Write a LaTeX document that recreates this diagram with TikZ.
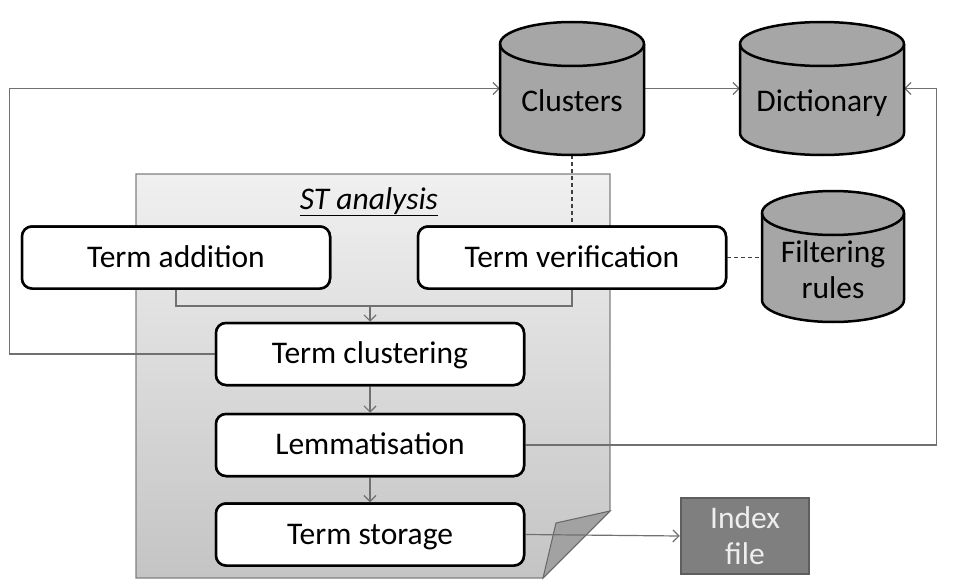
\documentclass[tikz,border=0pt]{standalone}
\usepackage{fontspec}
\setmainfont{Carlito}
\usetikzlibrary{arrows.meta}
\definecolor{cylfill}{HTML}{A6A6A6}
\definecolor{connc}{HTML}{707070}
\definecolor{panelTop}{HTML}{F0F0F0}
\definecolor{panelBot}{HTML}{C4C4C4}
\definecolor{panelEdge}{HTML}{808080}
\definecolor{flapc}{HTML}{A2A2A2}
\definecolor{idxfill}{HTML}{7F7F7F}
\definecolor{idxedge}{HTML}{5E5E5E}
\definecolor{idxtext}{HTML}{EEEEEE}
\newcommand\DrawCylShape[4]{%
  \pgfmathsetmacro\cylrx{(#2-#1)/2}%
  \filldraw[cylbody] (#1,#3+22) -- (#1,#4-22)
     arc[start angle=180,end angle=360,x radius=\cylrx pt,y radius=22pt]
     -- (#2,#3+22)
     arc[start angle=0,end angle=180,x radius=\cylrx pt,y radius=22pt] -- cycle;
  \draw[cylbody,fill=none] (#1,#3+22)
     arc[start angle=180,end angle=360,x radius=\cylrx pt,y radius=22pt];
}
\begin{document}
\begin{tikzpicture}[x=1pt,y=-1pt,
  every node/.style={font=\fontsize{31.5}{36}\selectfont},
  proc/.style={draw=black, line width=2.5pt, rounded corners=10pt, fill=white,
    minimum width=308pt, minimum height=62pt, inner sep=0pt,
    text height=25pt, text depth=6pt},
  cylbody/.style={draw=black, line width=2.5pt, fill=cylfill},
  holder/.style={inner sep=0pt, draw=none},
  conn/.style={draw=connc, line width=1.2pt},
  arr/.style={-{Straight Barb[length=6pt,width=12pt]}},
  dashc/.style={draw=black!75, line width=1.2pt, dash pattern=on 4pt off 3pt},
  cyltext/.style={align=center, inner sep=0pt}
]
\useasboundingbox[fill=white] (0,0) rectangle (954,586);

% ST analysis panel with folded corner
\shade[top color=panelTop, bottom color=panelBot]
  (136,174) -- (610,174) -- (610,511) -- (543,578) -- (136,578) -- cycle;
\draw[panelEdge, line width=1.2pt]
  (136,174) -- (610,174) -- (610,511) -- (543,578) -- (136,578) -- cycle;
\filldraw[fill=flapc, draw=black!60, line width=1pt]
  (610,511) -- (556,523) -- (543,578) -- cycle;
\node[inner sep=0pt, anchor=base] (stlabel) at (369,209) {\textit{\underline{ST analysis}}};

% cylinders (holders give names)
\node[holder, minimum width=144pt, minimum height=133pt] (clusters) at (572,88.5) {};
\node[holder, minimum width=164pt, minimum height=133pt] (dict) at (822,88.5) {};
\node[holder, minimum width=142pt, minimum height=131pt] (filt) at (833,256.5) {};

% process boxes
\node[proc] (add) at (176,257.5) {Term addition};
\node[proc] (ver) at (572,257.5) {Term verification};
\node[proc] (clu) at (370,354) {Term clustering};
\node[proc] (lem) at (370,445) {Lemmatisation};
\node[proc] (sto) at (370,534.5) {Term storage};
\node[draw=idxedge, fill=idxfill, line width=2.5pt, text=idxtext,
  minimum width=128pt, minimum height=76pt, inner sep=0pt, align=center]
  (idx) at (745,536) {Index\\file};

% connectors
\coordinate (join) at (370,306);
\draw[conn] (add.south) |- (join) -| (ver.south);
\draw[conn,arr] (join) -- (clu.north);
\draw[conn,arr] (clu.west) -- ++(-205,0) |- (clusters.west);
\draw[conn,arr] (clu.south) -- (lem.north);
\draw[conn,arr] (lem.south) -- (sto.north);
\draw[conn,arr] (lem.east) -- ++(411,0) |- (dict.east);
\draw[conn,arr] (sto.east) -- (idx.west);
\draw[conn,arr] (clusters.east) -- (dict.west);
\draw[dashc] (clusters.south) -- (ver.north);
\draw[dashc] (ver.east) -- (ver.east -| filt.west);

% redraw boxes above connectors
\node[proc] at (add) {Term addition};
\node[proc] at (ver) {Term verification};
\node[proc] at (clu) {Term clustering};
\node[proc] at (lem) {Lemmatisation};
\node[proc] at (sto) {Term storage};

% cylinder shapes and texts
\DrawCylShape{500}{644}{22}{155}
\DrawCylShape{740}{904}{22}{155}
\DrawCylShape{762}{904}{191}{322}
\node[cyltext, anchor=base] at (572,111) {Clusters};
\node[cyltext, anchor=base] at (822,111) {Dictionary};
\node[cyltext] at (833,270) {Filtering\\rules};
\end{tikzpicture}
\end{document}
